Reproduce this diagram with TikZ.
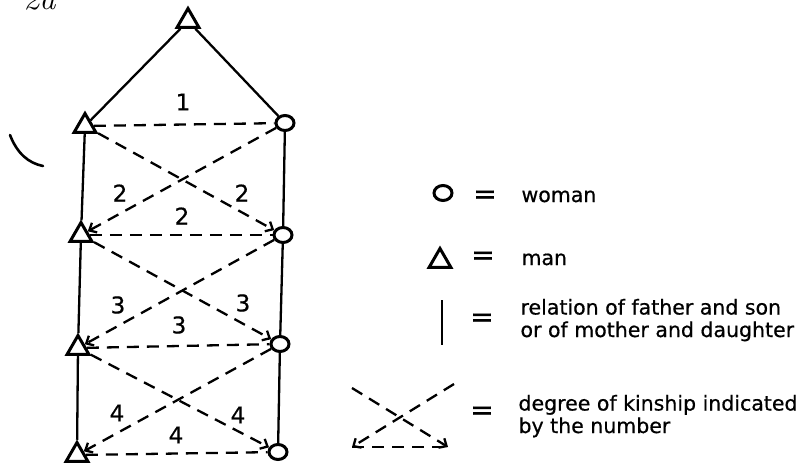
\documentclass[tikz,border=0pt]{standalone}
\usepackage{fontspec}
\setsansfont{DejaVu Sans}[FakeBold=0.6]
\usetikzlibrary{shapes.geometric,arrows.meta}
\begin{document}
\begin{tikzpicture}[x=1pt, y=-1pt,
  man/.style={regular polygon, regular polygon sides=3, draw=black, line width=3pt, inner sep=0pt, minimum size=25pt},
  wom/.style={ellipse, draw=black, line width=3pt, inner sep=0pt, minimum width=18pt, minimum height=15pt},
  ed/.style={draw=black, line width=2.3pt},
  kin/.style={draw=black, line width=2.3pt, dash pattern=on 12pt off 8pt},
  kinto/.style={kin, -{Straight Barb[length=6pt,width=11pt,line width=2.3pt]}},
  num/.style={font=\fontsize{23}{23}\selectfont\sffamily},
  txt/.style={font=\fontsize{20.5}{22.5}\selectfont\sffamily, anchor=base west, align=left},
  eq/.style={font=\fontsize{28}{28}\selectfont\sffamily}]
\useasboundingbox (0,0) rectangle (806,467);
\node[font=\fontsize{32}{32}\selectfont\itshape, anchor=base west] (ttl) at (20,9) {2a};
\draw[line width=2.6pt, line cap=round] (10,135) .. controls (17,153) and (28,163) .. (43,166);
\node[man] (m0) at (188,21) {};
\node[man] (m1) at (85,126) {};  \node[wom] (w1) at (285,123) {};
\node[man] (m2) at (81,235) {};  \node[wom] (w2) at (283,235) {};
\node[man] (m3) at (78,348) {};  \node[wom] (w3) at (280,344) {};
\node[man] (m4) at (77,455) {};  \node[wom] (w4) at (278,452) {};
% Solid lines join parent and child down each column; the dashed lines
% cross between neighbouring generations and carry a tip at the lower end,
% the horizontal ones stay plain. Degree grows by one per generation.
\draw[ed] (m0)--(m1); \draw[ed] (m0)--(w1);
\draw[ed] (m1)--(m2); \draw[ed] (m2)--(m3); \draw[ed] (m3)--(m4);
\draw[ed] (w1)--(w2); \draw[ed] (w2)--(w3); \draw[ed] (w3)--(w4);
\draw[kin] (m1)--(w1); \draw[kin] (m2)--(w2); \draw[kin] (m3)--(w3); \draw[kin] (m4)--(w4);
\draw[kinto] (m1)--(w2); \draw[kinto] (w1)--(m2);
\draw[kinto] (m2)--(w3); \draw[kinto] (w2)--(m3);
\draw[kinto] (m3)--(w4); \draw[kinto] (w3)--(m4);
\node[num] at (183,102) {1};
\node[num] at (120,193) {2}; \node[num] at (242,193) {2}; \node[num] at (182,216) {2};
\node[num] at (118,305) {3}; \node[num] at (243,303) {3}; \node[num] at (179,325) {3};
\node[num] at (117,413) {4}; \node[num] at (238,415) {4}; \node[num] at (176,435) {4};
% legend
\node[wom] (lw) at (443,193) {};
\node[eq] at (485,197) {=};
\node[txt] at (518,202) {woman};
\node[man] (lm) at (440,261) {};
\node[eq] at (483,258) {=};
\node[txt] at (518,265) {man};
\coordinate (ba) at (442,300); \coordinate (bb) at (442,345);
\draw[line width=2.8pt] (ba)--(bb);
\node[eq] at (482,320) {=};
\node[txt] at (517,337) {relation of father and son\\or of mother and daughter};
\coordinate (xa) at (352,388); \coordinate (xb) at (448,447);
\coordinate (xc) at (454,384); \coordinate (xd) at (352,447);
\draw[kinto] (xa)--(xb); \draw[kinto] (xc)--(xd);
\draw[kin] (xd)--(xb);
\node[eq] at (482,413) {=};
\node[txt] at (515,433) {degree of kinship indicated\\by the number};
\end{tikzpicture}
\end{document}
